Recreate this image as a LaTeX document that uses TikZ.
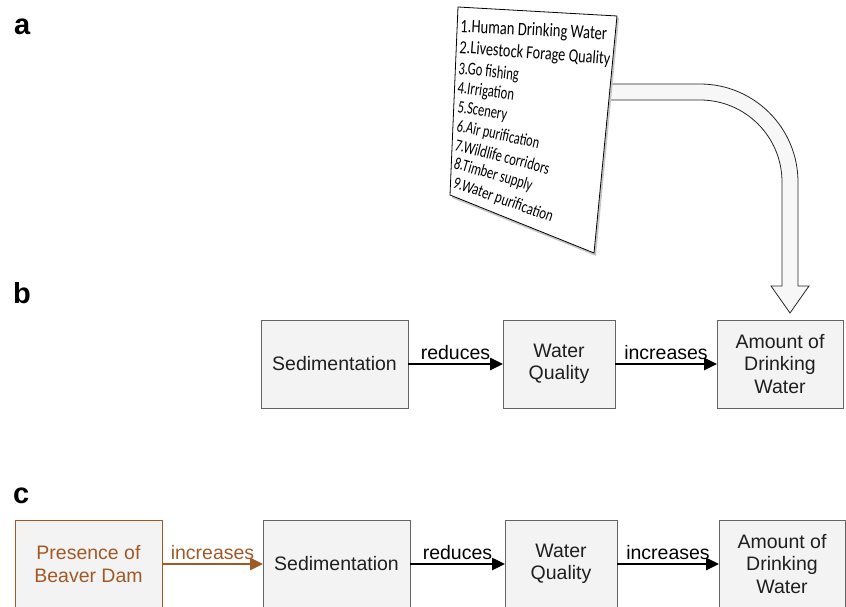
\documentclass[tikz,border=0pt]{standalone}
\usepackage{fontspec}
\setmainfont{Liberation Sans}
\newfontfamily\cardfont{Carlito}
\usepackage{tikz}
\usetikzlibrary{arrows.meta, positioning}
\definecolor{dambrown}{RGB}{160,90,40}
\definecolor{boxgray}{RGB}{243,243,243}
\definecolor{edgegray}{RGB}{100,100,100}
\tikzset{
  %% ---- boxes ----
  chainbox/.style = {rectangle, draw=edgegray, line width=1pt,
                   fill=boxgray, minimum width=#1, minimum height=88pt,
                   inner sep=0pt, outer sep=0pt, align=center, text=black!88,
                   font=\fontsize{19.5}{22.5}\selectfont},
  chainbox/.default = 147pt,
  dambox/.style  = {chainbox=147pt, draw=dambrown, text=dambrown},
  cardline/.style = {anchor=base west, inner sep=0pt,
                   font=\cardfont\fontsize{#1}{#1}\selectfont},
  panel/.style   = {anchor=base west, inner sep=0pt,
                   font=\fontsize{29}{30}\selectfont\bfseries},
  %% ---- arrows ----
  link/.style    = {-{Triangle[length=13pt,width=12pt]}, line width=2.5pt},
  damlink/.style = {link, color=dambrown},
  linklabel/.style = {midway, anchor=base, yshift=5pt, inner sep=0pt,
                   font=\fontsize{19.5}{22}\selectfont},
  bigarrow/.style = {fill=gray!6, draw=gray!30!black, line width=0.8pt},
}
\begin{document}
\begin{tikzpicture}[x=1pt, y=-1pt, node distance=95pt]
\useasboundingbox (0,0) rectangle (846,607);
\node[panel] (pa) at (14,35)  {a};
\node[panel] (pb) at (13,303) {b};
\node[panel] (pc) at (13,503) {c};
% row b
\node[chainbox]                        (sedb) at (334.5,364) {Sedimentation};
\node[chainbox=112pt, right=of sedb]   (wqb)  {Water\\Quality};
\node[chainbox=126pt, right=102pt of wqb] (amtb) {Amount of\\Drinking\\Water};
% row c
\node[dambox]                          (dam)  at (88.5,564) {Presence of\\Beaver Dam};
\node[chainbox, right=101pt of dam]    (sedc) {Sedimentation};
\node[chainbox=112pt, right=of sedc]   (wqc)  {Water\\Quality};
\node[chainbox=126pt, right=102pt of wqc] (amtc) {Amount of\\Drinking\\Water};
\draw[link] (sedb) -- (wqb) node[linklabel] {reduces};
\draw[link] (wqb) -- (amtb) node[linklabel] {increases};
\draw[damlink] (dam) -- (sedc) node[linklabel] {increases};
\draw[link] (sedc) -- (wqc) node[linklabel] {reduces};
\draw[link] (wqc) -- (amtc) node[linklabel] {increases};
% services card and block arrow to (b)
\draw[bigarrow] (600,84) -- (700,84) arc[start angle=-90, end angle=0, radius=98]
  -- (798,286) -- (809,286) -- (790,313) -- (771,286) -- (782,286)
  -- (782,182) arc[start angle=0, end angle=-90, radius=82] -- (600,100);
\fill[gray!45] (460,9) -- (619,18) -- (596,256) -- (452,198) -- cycle;
\draw[fill=white, line width=0.8pt] (458,7) -- (617,16) -- (594,253) -- (450,195) -- cycle;
\node[cardline=14.6, rotate=-3,    yscale=1.3]               (s1) at (460,32)  {1.Human Drinking Water};
\node[cardline=14.3, rotate=-4.5,  yscale=1.3]               (s2) at (459,53)  {2.Livestock Forage Quality};
\node[cardline=14,   rotate=-6,    yscale=1.3, xscale=0.9]   (s3) at (458,74)  {3.Go fishing};
\node[cardline=13.8, rotate=-7.5,  yscale=1.3, xscale=0.92]  (s4) at (457,93)  {4.Irrigation};
\node[cardline=13.6, rotate=-9.5,  yscale=1.3, xscale=0.92]  (s5) at (457,112) {5.Scenery};
\node[cardline=13.4, rotate=-12,   yscale=1.3, xscale=0.92]  (s6) at (456,131) {6.Air purification};
\node[cardline=13.3, rotate=-14.5, yscale=1.3, xscale=0.95]  (s7) at (454,150) {7.Wildlife corridors};
\node[cardline=13.2, rotate=-16.5, yscale=1.3, xscale=0.95]  (s8) at (453,168) {8.Timber supply};
\node[cardline=13,   rotate=-19.5, yscale=1.3]               (s9) at (452,187) {9.Water purification};
\end{tikzpicture}
\end{document}
